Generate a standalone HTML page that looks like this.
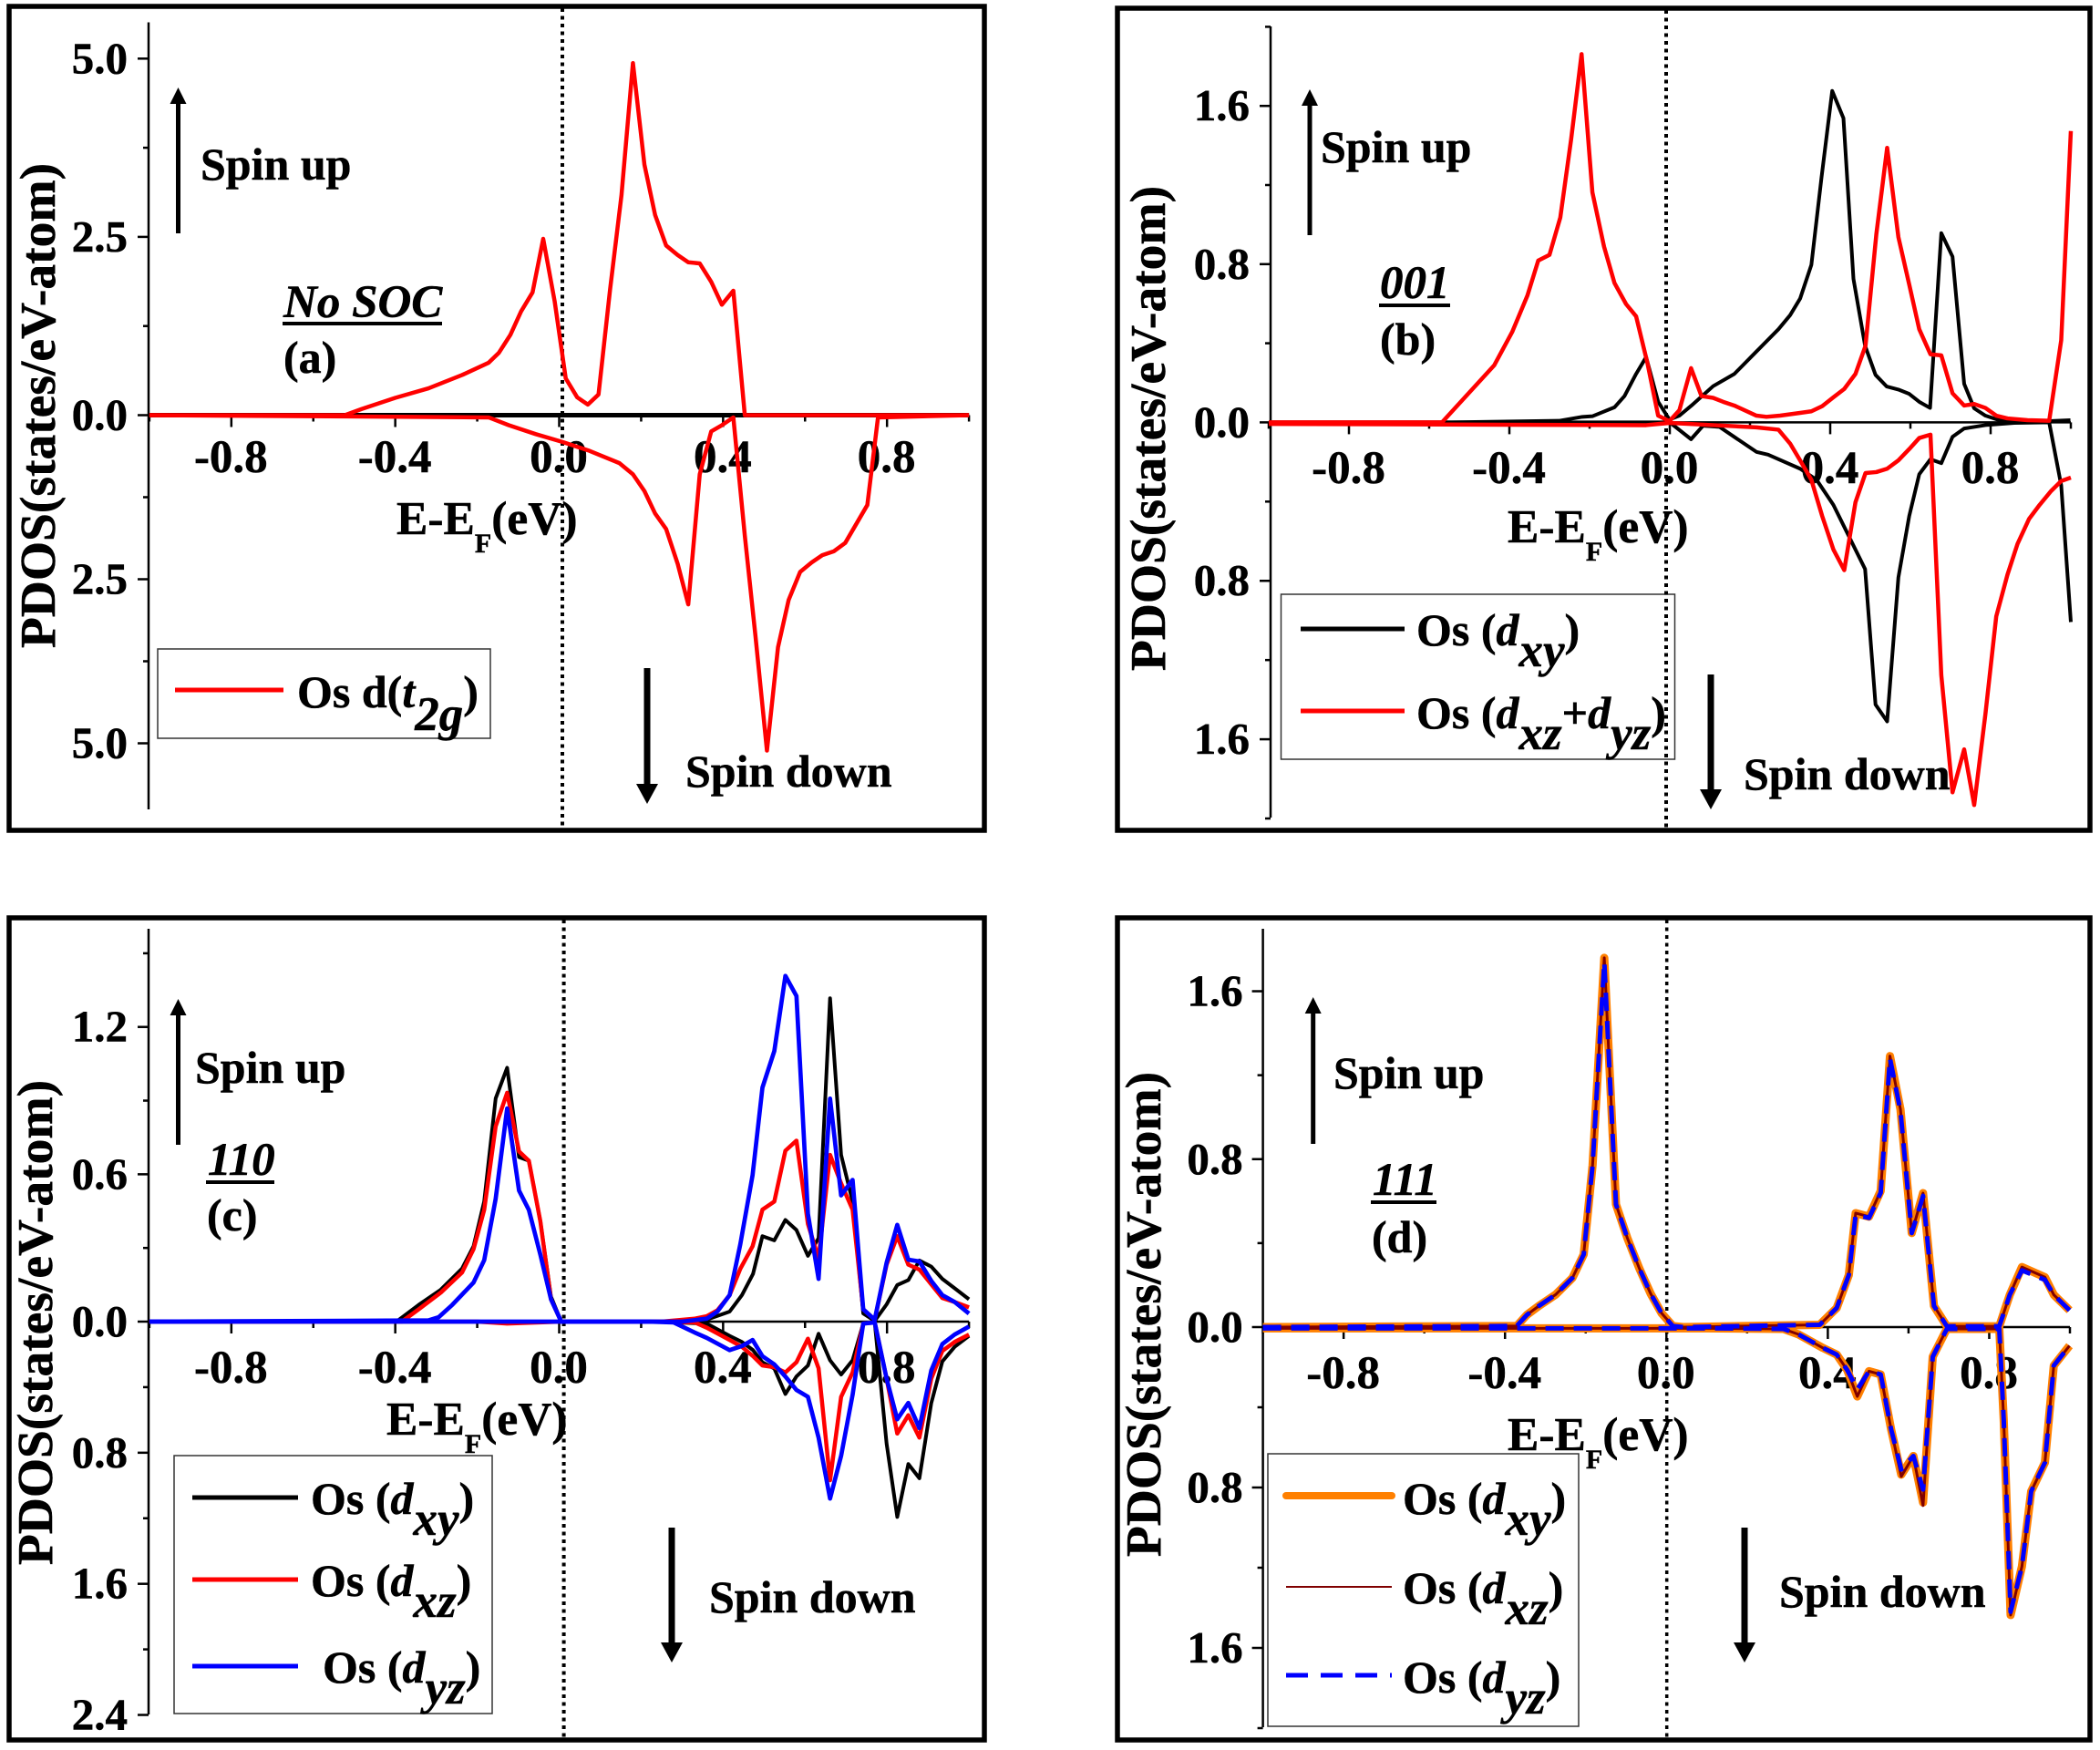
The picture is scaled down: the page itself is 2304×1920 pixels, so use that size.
<!DOCTYPE html>
<html lang="en">
<head>
<meta charset="utf-8">
<title>Os PDOS panels</title>
<style>
html,body{margin:0;padding:0;background:#fff;}
svg{display:block;}
text{font-family:"Liberation Serif",serif;font-weight:bold;fill:#000;font-size:50px;stroke:#000;stroke-width:.5px;}
.i{font-style:italic;}
</style>
</head>
<body>
<svg id="figure" xmlns="http://www.w3.org/2000/svg" width="2304" height="1920" viewBox="0 0 2304 1920">
<rect width="2304" height="1920" fill="#fff"/>

<g id="panel-a">
  <rect x="10" y="7" width="1070" height="904" fill="none" stroke="#000" stroke-width="5.5"/>
  <text transform="translate(60,445) rotate(-90)" text-anchor="middle" style="font-size:55.5px">PDOS(states/eV-atom)</text>
  <text x="220" y="197">Spin up</text>
  <line x1="195.5" y1="256" x2="195.5" y2="108" stroke="#000" stroke-width="5"/>
  <polygon points="195.5,96 186.5,114 204.5,114" fill="#000"/>
  <text x="752" y="863">Spin down</text>
  <line x1="710" y1="733" x2="710" y2="865" stroke="#000" stroke-width="7"/>
  <polygon points="710,882 698,860 722,860" fill="#000"/>
  <text class="i" x="311" y="348" style="font-size:51px">No SOC</text>
  <line x1="310" y1="355" x2="485" y2="355" stroke="#000" stroke-width="4"/>
  <text x="311" y="409">(a)</text>
  <text x="435" y="586" style="font-size:51.5px">E-E<tspan dy="20" style="font-size:30px">F</tspan><tspan dy="-20">(eV)</tspan></text>
  <rect x="173" y="712" width="365" height="98" fill="none" stroke="#333" stroke-width="1.5"/>
  <line x1="192" y1="757" x2="311" y2="757" stroke="#f00" stroke-width="5"/>
  <text x="326" y="776">Os d(<tspan class="i">t</tspan><tspan class="i" dy="25" style="font-size:53px">2g</tspan><tspan dy="-25">)</tspan></text>
</g>

<g id="panel-b">
  <rect x="1226" y="9" width="1067" height="902" fill="none" stroke="#000" stroke-width="5.5"/>
  <text transform="translate(1278,470) rotate(-90)" text-anchor="middle" style="font-size:55.5px">PDOS(states/eV-atom)</text>
  <text x="1449" y="178">Spin up</text>
  <line x1="1437" y1="258" x2="1437" y2="110" stroke="#000" stroke-width="5"/>
  <polygon points="1437,98 1428,116 1446,116" fill="#000"/>
  <text x="1913" y="866">Spin down</text>
  <line x1="1877" y1="740" x2="1877" y2="870" stroke="#000" stroke-width="7"/>
  <polygon points="1877,888 1865,866 1889,866" fill="#000"/>
  <text class="i" x="1514" y="327" style="font-size:51px">001</text>
  <line x1="1513" y1="335" x2="1591" y2="335" stroke="#000" stroke-width="4"/>
  <text x="1514" y="389">(b)</text>
  <text x="1654" y="595" style="font-size:51.5px">E-E<tspan dy="20" style="font-size:30px">F</tspan><tspan dy="-20">(eV)</tspan></text>
  <rect x="1405.5" y="652" width="432" height="181" fill="none" stroke="#333" stroke-width="1.5"/>
  <line x1="1427" y1="690" x2="1541" y2="690" stroke="#000" stroke-width="5"/>
  <text x="1554" y="708">Os (<tspan class="i">d</tspan><tspan class="i" dy="23" style="font-size:53px">xy</tspan><tspan dy="-23">)</tspan></text>
  <line x1="1427" y1="780" x2="1541" y2="780" stroke="#f00" stroke-width="5"/>
  <text x="1554" y="799">Os (<tspan class="i">d</tspan><tspan class="i" dy="23" style="font-size:53px">xz</tspan><tspan dy="-23">+</tspan><tspan class="i">d</tspan><tspan class="i" dy="23" style="font-size:53px">yz</tspan><tspan dy="-23">)</tspan></text>
</g>

<g id="panel-c">
  <rect x="10" y="1007" width="1070" height="902" fill="none" stroke="#000" stroke-width="5.5"/>
  <text transform="translate(57,1451) rotate(-90)" text-anchor="middle" style="font-size:55.5px">PDOS(states/eV-atom)</text>
  <text x="214" y="1188">Spin up</text>
  <line x1="195.5" y1="1256" x2="195.5" y2="1108" stroke="#000" stroke-width="5"/>
  <polygon points="195.5,1096 186.5,1114 204.5,1114" fill="#000"/>
  <text x="778" y="1769">Spin down</text>
  <line x1="737" y1="1676" x2="737" y2="1806" stroke="#000" stroke-width="7"/>
  <polygon points="737,1824 725,1802 749,1802" fill="#000"/>
  <text class="i" x="228" y="1289" style="font-size:51px">110</text>
  <line x1="226" y1="1297" x2="301" y2="1297" stroke="#000" stroke-width="4"/>
  <text x="227" y="1350">(c)</text>
  <text x="424" y="1574" style="font-size:51.5px">E-E<tspan dy="20" style="font-size:30px">F</tspan><tspan dy="-20">(eV)</tspan></text>
  <rect x="191" y="1597" width="349" height="283" fill="none" stroke="#333" stroke-width="1.5"/>
  <line x1="211" y1="1643" x2="327" y2="1643" stroke="#000" stroke-width="5"/>
  <text x="341" y="1661">Os (<tspan class="i">d</tspan><tspan class="i" dy="23" style="font-size:53px">xy</tspan><tspan dy="-23">)</tspan></text>
  <line x1="211" y1="1733" x2="327" y2="1733" stroke="#f00" stroke-width="5"/>
  <text x="341" y="1751">Os (<tspan class="i">d</tspan><tspan class="i" dy="23" style="font-size:53px">xz</tspan><tspan dy="-23">)</tspan></text>
  <line x1="211" y1="1828" x2="327" y2="1828" stroke="#00f" stroke-width="5"/>
  <text x="354" y="1846">Os (<tspan class="i">d</tspan><tspan class="i" dy="23" style="font-size:53px">yz</tspan><tspan dy="-23">)</tspan></text>
</g>

<g id="panel-d">
  <rect x="1226" y="1007" width="1067" height="902" fill="none" stroke="#000" stroke-width="5.5"/>
  <text transform="translate(1273,1442) rotate(-90)" text-anchor="middle" style="font-size:55.5px">PDOS(states/eV-atom)</text>
  <text x="1463" y="1194">Spin up</text>
  <line x1="1440.7" y1="1255" x2="1440.7" y2="1106" stroke="#000" stroke-width="5"/>
  <polygon points="1440.7,1094 1431.7,1112 1449.7,1112" fill="#000"/>
  <text x="1952" y="1763">Spin down</text>
  <line x1="1914" y1="1676" x2="1914" y2="1806" stroke="#000" stroke-width="7"/>
  <polygon points="1914,1824 1902,1802 1926,1802" fill="#000"/>
  <text class="i" x="1506" y="1311" style="font-size:51px">111</text>
  <line x1="1504" y1="1319" x2="1576" y2="1319" stroke="#000" stroke-width="4"/>
  <text x="1505" y="1374">(d)</text>
  <text x="1654" y="1591" style="font-size:51.5px">E-E<tspan dy="20" style="font-size:30px">F</tspan><tspan dy="-20">(eV)</tspan></text>
  <rect x="1391" y="1595" width="341" height="299" fill="none" stroke="#333" stroke-width="1.5"/>
  <line x1="1411" y1="1641" x2="1527" y2="1641" stroke="#ff8000" stroke-width="8" stroke-linecap="round"/>
  <text x="1539" y="1661">Os (<tspan class="i">d</tspan><tspan class="i" dy="23" style="font-size:53px">xy</tspan><tspan dy="-23">)</tspan></text>
  <line x1="1411" y1="1741" x2="1527" y2="1741" stroke="#800000" stroke-width="2"/>
  <text x="1539" y="1759">Os (<tspan class="i">d</tspan><tspan class="i" dy="23" style="font-size:53px">xz</tspan><tspan dy="-23">)</tspan></text>
  <line x1="1411" y1="1838" x2="1527" y2="1838" stroke="#00f" stroke-width="5" stroke-dasharray="24 14"/>
  <text x="1539" y="1857">Os (<tspan class="i">d</tspan><tspan class="i" dy="23" style="font-size:53px">yz</tspan><tspan dy="-23">)</tspan></text>
</g>
</svg>

<script>
// ---- shared x-axis tick data (eV) ----
const xMajorTicks = [-0.8, -0.4, 0, 0.4, 0.8];
const xTickLabels = ['-0.8', '-0.4', '0.0', '0.4', '0.8'];
const xMinorTicks = [-1, -0.6, -0.2, 0.2, 0.6, 1];

// ---- panel (a): No SOC ----
const aUpTicks = [0, 2.5, 5];
const aUpLabels = ['0.0', '2.5', '5.0'];
const aUpMinor = [1.25, 3.75];
const aDownTicks = [2.5, 5];
const aDownLabels = ['2.5', '5.0'];
const aDownMinor = [1.25, 3.75];
const aBaseEnergy = [-1, 1];
const aBaseValues = [0, 0];
const aUpEnergy = [-1,-0.523,-0.482,-0.4,-0.319,-0.237,-0.172,-0.147,-0.119,-0.093,-0.065,-0.039,-0.011,0.016,0.044,0.07,0.096,0.124,0.152,0.18,0.208,0.234,0.261,0.289,0.315,0.343,0.371,0.397,0.425,0.453,1];
const aUpValues = [0,0,0.086,0.243,0.376,0.563,0.736,0.876,1.127,1.455,1.721,2.473,1.596,0.516,0.25,0.149,0.29,1.753,3.083,4.937,3.513,2.809,2.379,2.246,2.144,2.128,1.87,1.549,1.745,0,0];
const aDownEnergy = [-1,-0.172,-0.123,-0.057,0.008,0.074,0.147,0.18,0.208,0.234,0.261,0.289,0.315,0.343,0.371,0.397,0.425,0.453,0.479,0.507,0.534,0.56,0.588,0.616,0.642,0.67,0.698,0.752,0.778,1];
const aDownValues = [0,0.034,0.153,0.289,0.408,0.544,0.731,0.901,1.156,1.497,1.735,2.262,2.883,0.901,0.247,0.153,0.034,1.837,3.367,5.111,3.537,2.815,2.389,2.245,2.134,2.075,1.947,1.369,0.034,0];

// ---- panel (b): 001 ----
const bUpTicks = [0, 0.8, 1.6];
const bUpLabels = ['0.0', '0.8', '1.6'];
const bUpMinor = [0.4, 1.2, 2.0];
const bDownTicks = [0.8, 1.6];
const bDownLabels = ['0.8', '1.6'];
const bDownMinor = [0.4, 1.2, 2.0];
const bDxyUpEnergy = [-1,-0.543,-0.276,-0.218,-0.193,-0.138,-0.113,-0.084,-0.059,-0.029,-0.001,0.024,0.054,0.108,0.161,0.216,0.271,0.3,0.325,0.353,0.378,0.405,0.433,0.458,0.487,0.513,0.541,0.57,0.597,0.622,0.649,0.677,0.705,0.734,0.759,0.787,0.817,0.876,0.999];
const bDxyUpValues = [0,0,0.008,0.028,0.031,0.076,0.133,0.245,0.33,0.104,0.014,0.034,0.085,0.183,0.245,0.358,0.471,0.542,0.626,0.796,1.233,1.676,1.538,0.725,0.387,0.24,0.181,0.166,0.144,0.104,0.073,0.957,0.838,0.195,0.071,0.034,0.014,0,0.011];
const bDxzUpEnergy = [-1,-0.568,-0.438,-0.393,-0.355,-0.328,-0.3,-0.273,-0.246,-0.22,-0.193,-0.164,-0.138,-0.109,-0.084,-0.056,-0.029,-0.001,0.024,0.053,0.079,0.108,0.133,0.161,0.216,0.241,0.275,0.325,0.353,0.38,0.408,0.435,0.463,0.488,0.515,0.542,0.57,0.597,0.622,0.65,0.677,0.705,0.734,0.759,0.787,0.814,0.842,0.892,0.946,0.976,1];
const bDxzUpValues = [0,0,0.288,0.457,0.641,0.818,0.847,1.036,1.431,1.862,1.163,0.889,0.705,0.598,0.536,0.302,0.034,0.006,0.062,0.274,0.133,0.124,0.104,0.085,0.034,0.028,0.034,0.048,0.056,0.082,0.127,0.169,0.245,0.387,0.951,1.388,0.937,0.697,0.471,0.344,0.339,0.147,0.085,0.093,0.073,0.034,0.02,0.011,0.008,0.415,1.473];
const bDxyDownEnergy = [-1,0,0.053,0.083,0.124,0.216,0.245,0.325,0.366,0.408,0.487,0.513,0.542,0.57,0.597,0.622,0.65,0.677,0.705,0.734,0.787,0.859,0.946,0.976,1];
const bDxyDownValues = [0,0,0.085,0.017,0.023,0.149,0.163,0.234,0.29,0.417,0.741,1.425,1.51,0.783,0.473,0.262,0.186,0.206,0.073,0.031,0.014,0.003,0,0.318,1.008];
const bDxzDownEnergy = [-1,-0.059,0,0.108,0.216,0.271,0.3,0.325,0.353,0.38,0.408,0.435,0.463,0.488,0.515,0.542,0.57,0.597,0.622,0.65,0.677,0.705,0.734,0.759,0.787,0.814,0.842,0.867,0.896,0.922,0.951,0.976,1];
const bDxzDownValues = [0.008,0.014,0.003,0.014,0.025,0.037,0.107,0.192,0.29,0.473,0.642,0.746,0.403,0.256,0.251,0.234,0.192,0.135,0.079,0.062,1.276,1.868,1.651,1.932,1.473,0.98,0.769,0.614,0.487,0.417,0.346,0.296,0.279];

// ---- panel (c): 110 ----
const cUpTicks = [0, 0.6, 1.2];
const cUpLabels = ['0.0', '0.6', '1.2'];
const cUpMinor = [0.3, 0.9, 1.5];
const cDownTicks = [0.8, 1.6, 2.4];
const cDownLabels = ['0.8', '1.6', '2.4'];
const cDownMinor = [0.4, 1.2, 2.0];
const cDxyUpEnergy = [-1,-0.397,-0.343,-0.289,-0.237,-0.209,-0.183,-0.155,-0.127,-0.098,-0.074,-0.046,-0.02,0.005,0.25,0.36,0.416,0.446,0.473,0.496,0.525,0.552,0.579,0.607,0.633,0.661,0.688,0.716,0.742,0.77,0.799,0.825,0.852,0.879,0.908,0.935,0.965,1];
const cDxyUpValues = [0,0,0.068,0.13,0.216,0.307,0.489,0.909,1.034,0.67,0.655,0.409,0.102,0,0,0.008,0.041,0.108,0.194,0.348,0.331,0.414,0.373,0.268,0.34,1.317,0.679,0.489,0.033,0.003,0.07,0.149,0.169,0.249,0.224,0.174,0.136,0.091];
const cDxzUpEnergy = [-1,-0.384,-0.343,-0.289,-0.237,-0.209,-0.183,-0.155,-0.127,-0.098,-0.074,-0.046,-0.02,0.005,0.25,0.331,0.36,0.386,0.416,0.442,0.472,0.496,0.525,0.552,0.579,0.607,0.633,0.661,0.688,0.716,0.742,0.77,0.799,0.825,0.852,0.879,0.908,0.935,0.965,1];
const cDxzUpValues = [0,0,0.05,0.118,0.2,0.295,0.455,0.795,0.932,0.693,0.655,0.409,0.091,0,0,0.012,0.022,0.046,0.108,0.215,0.307,0.456,0.489,0.696,0.737,0.398,0.257,0.679,0.563,0.456,0.05,0.008,0.232,0.348,0.232,0.212,0.152,0.096,0.08,0.058];
const cDyzUpEnergy = [-1,-0.319,-0.294,-0.261,-0.209,-0.183,-0.155,-0.127,-0.098,-0.074,-0.046,-0.02,0.005,0.3,0.36,0.386,0.416,0.442,0.472,0.496,0.525,0.552,0.579,0.607,0.633,0.661,0.688,0.716,0.742,0.77,0.799,0.825,0.852,0.879,0.908,0.935,0.965,1];
const cDyzUpValues = [0,0.005,0.018,0.068,0.159,0.25,0.5,0.868,0.534,0.455,0.273,0.091,0,0,0.012,0.041,0.108,0.315,0.597,0.953,1.102,1.408,1.326,0.439,0.174,0.908,0.514,0.577,0.05,0.008,0.24,0.394,0.252,0.245,0.166,0.108,0.08,0.033];
const cDxyDownEnergy = [-1,0.22,0.279,0.36,0.416,0.446,0.473,0.496,0.525,0.552,0.579,0.607,0.633,0.661,0.688,0.716,0.742,0.77,0.799,0.825,0.852,0.879,0.908,0.935,0.965,1];
const cDxyDownValues = [0,0,0.005,0.012,0.087,0.124,0.174,0.248,0.286,0.442,0.335,0.268,0.074,0.236,0.323,0.236,0.012,0.005,0.745,1.192,0.869,0.956,0.497,0.243,0.154,0.087];
const cDxzDownEnergy = [-1,-0.2,-0.127,-0.04,0.005,0.25,0.331,0.36,0.416,0.446,0.473,0.496,0.525,0.552,0.579,0.607,0.633,0.661,0.688,0.716,0.742,0.77,0.799,0.825,0.852,0.879,0.908,0.935,0.965,1];
const cDxzDownValues = [0,0,0.012,0.004,0,0,0.005,0.037,0.112,0.154,0.211,0.268,0.278,0.31,0.248,0.104,0.285,0.968,0.459,0.31,0.012,0.005,0.348,0.683,0.571,0.708,0.348,0.179,0.124,0.079];
const cDyzDownEnergy = [-1,0.22,0.279,0.331,0.36,0.416,0.446,0.472,0.496,0.525,0.552,0.579,0.607,0.633,0.661,0.688,0.716,0.742,0.77,0.799,0.825,0.852,0.879,0.908,0.935,0.965,1];
const cDyzDownValues = [0,0,0.005,0.067,0.099,0.174,0.149,0.112,0.211,0.261,0.335,0.417,0.459,0.708,1.08,0.819,0.447,0.012,0.005,0.348,0.596,0.496,0.65,0.298,0.137,0.079,0.03];

// ---- panel (d): 111 ----
const dUpTicks = [0, 0.8, 1.6];
const dUpLabels = ['0.0', '0.8', '1.6'];
const dUpMinor = [0.4, 1.2];
const dDownTicks = [0.8, 1.6];
const dDownLabels = ['0.8', '1.6'];
const dDownMinor = [0.4, 1.2, 2.0];
const dUpEnergy = [-1,-0.371,-0.346,-0.316,-0.275,-0.233,-0.205,-0.183,-0.154,-0.125,-0.097,-0.067,-0.039,-0.012,0.016,0.041,0.38,0.422,0.452,0.469,0.502,0.531,0.554,0.58,0.608,0.636,0.663,0.695,0.825,0.851,0.881,0.938,0.96,0.999];
const dDxyUpValues = [0,0.005,0.058,0.101,0.154,0.234,0.346,0.771,1.759,0.585,0.425,0.279,0.159,0.066,0.005,0,0.011,0.091,0.248,0.543,0.526,0.648,1.291,1.038,0.448,0.638,0.101,0.004,0.004,0.154,0.286,0.238,0.154,0.08];
const dDxzUpValues = [0,0.005,0.058,0.101,0.154,0.234,0.346,0.771,1.759,0.585,0.425,0.279,0.159,0.066,0.005,0,0.011,0.091,0.248,0.543,0.526,0.648,1.291,1.038,0.448,0.638,0.101,0.004,0.004,0.154,0.286,0.238,0.154,0.08];
const dDyzUpValues = [0,0.005,0.058,0.101,0.154,0.234,0.346,0.771,1.74,0.585,0.425,0.279,0.159,0.066,0.005,0,0.011,0.091,0.248,0.535,0.52,0.64,1.28,1.03,0.448,0.625,0.101,0.004,0.004,0.154,0.27,0.225,0.154,0.08];
const dDownEnergy = [-1,-0.2,0.1,0.29,0.328,0.388,0.422,0.448,0.473,0.502,0.531,0.557,0.582,0.612,0.636,0.66,0.695,0.825,0.836,0.853,0.881,0.904,0.938,0.96,0.999];
const dDxyDownValues = [0.006,0.006,0.006,0.009,0.037,0.104,0.137,0.214,0.346,0.22,0.236,0.511,0.736,0.643,0.875,0.148,0.009,0.009,0.467,1.436,1.194,0.819,0.676,0.192,0.093];
const dDxzDownValues = [0.006,0.006,0.006,0.009,0.037,0.104,0.137,0.214,0.346,0.22,0.236,0.511,0.745,0.643,0.89,0.148,0.009,0.009,0.467,1.436,1.194,0.819,0.676,0.192,0.093];
const dDyzDownValues = [0.006,0.006,0.006,0.009,0.037,0.104,0.137,0.214,0.31,0.22,0.236,0.511,0.71,0.643,0.81,0.148,0.009,0.009,0.467,1.42,1.194,0.819,0.676,0.192,0.093];

const NS = 'http://www.w3.org/2000/svg';

function make(tag, parent) {
  const el = document.createElementNS(NS, tag);
  parent.appendChild(el);
  return el;
}
function tickLine(parent, x1, y1, x2, y2, width, name) {
  const el = make('line', parent);
  el.setAttribute('x1', x1);
  el.setAttribute('y1', y1);
  el.setAttribute('x2', x2);
  el.setAttribute('y2', y2);
  el.setAttribute('stroke', '#000');
  el.setAttribute('stroke-width', width);
  
  
  return el;
}
function tickText(parent, x, y, anchor, size, content, name) {
  const el = make('text', parent);
  el.setAttribute('x', x);
  el.setAttribute('y', y);
  el.setAttribute('text-anchor', anchor);
  el.style.fontSize = size + 'px';
  el.textContent = content;
  
  
  return el;
}
function drawSeries(parent, energies, values, xOf, yOf, color, width, dash, name) {
  const el = make('polyline', parent);
  const pts = [];
  for (let i = 0; i < energies.length; i++) {
    pts.push(xOf(energies[i]).toFixed(2) + ',' + yOf(values[i]).toFixed(2));
  }
  el.setAttribute('points', pts.join(' '));
  el.setAttribute('fill', 'none');
  el.setAttribute('stroke', color);
  el.setAttribute('stroke-width', width);
  el.setAttribute('stroke-linejoin', 'round');
  if (dash) el.setAttribute('stroke-dasharray', dash);
  
  
  return el;
}
function drawAxes(id, geo, up, upLabels, upMinor, down, downLabels, downMinor) {
  const parent = document.getElementById('panel-' + id);
  const g = make('g', parent);
  
  
  const xOf = e => geo.x0 + e * geo.xs;
  const yUp = v => geo.y0 - v * geo.up;
  const yDown = v => geo.y0 + v * geo.down;

  tickLine(g, geo.axisX, geo.top, geo.axisX, geo.bottom, 2.5, 'y-axis-line-' + id);
  tickLine(g, xOf(-1), geo.y0, xOf(1), geo.y0, 2.5, 'x-axis-line-' + id);
  xMajorTicks.forEach((t, i) => {
    tickLine(g, xOf(t), geo.y0, xOf(t), geo.y0 + 13, 2.5, 'x-tick-' + id);
    tickText(g, xOf(t) - 0.5, geo.xLabelY, 'middle', 51, xTickLabels[i], 'x-tick-label-' + id);
  });
  xMinorTicks.forEach(t => {
    tickLine(g, xOf(t), geo.y0, xOf(t), geo.y0 + 7, 2.5, 'x-minor-tick-' + id);
  });
  up.forEach((t, i) => {
    tickLine(g, geo.axisX - 12, yUp(t), geo.axisX, yUp(t), 2.5, 'y-tick-up-' + id);
    tickText(g, geo.labelX, yUp(t) + 16, 'end', 49, upLabels[i], 'y-tick-label-up-' + id);
  });
  upMinor.forEach(t => {
    tickLine(g, geo.axisX - 6, yUp(t), geo.axisX, yUp(t), 2.5, 'y-minor-tick-up-' + id);
  });
  down.forEach((t, i) => {
    tickLine(g, geo.axisX - 12, yDown(t), geo.axisX, yDown(t), 2.5, 'y-tick-down-' + id);
    tickText(g, geo.labelX, yDown(t) + 16, 'end', 49, downLabels[i], 'y-tick-label-down-' + id);
  });
  downMinor.forEach(t => {
    tickLine(g, geo.axisX - 6, yDown(t), geo.axisX, yDown(t), 2.5, 'y-minor-tick-down-' + id);
  });
  const fermi = tickLine(g, geo.fermiX, geo.frameTop, geo.fermiX, geo.frameBottom, geo.fermiW, 'fermi-level-line-' + id);
  fermi.setAttribute('stroke-dasharray', '4 4.5');

  const s = make('g', parent);
  
  
  return { s, xOf, yUp, yDown };
}

// panel a
const pa = drawAxes('a', {x0:613.5,xs:449.6,y0:455.5,up:78.24,down:72,axisX:163,top:24.5,bottom:888,labelX:140,xLabelY:518,fermiX:617,fermiW:4,frameTop:9,frameBottom:909},
  aUpTicks, aUpLabels, aUpMinor, aDownTicks, aDownLabels, aDownMinor);
drawSeries(pa.s, aBaseEnergy, aBaseValues, pa.xOf, pa.yUp, '#000', 5, null, 'baseline-trace-a');
drawSeries(pa.s, aDownEnergy, aDownValues, pa.xOf, pa.yDown, '#f00', 4.5, null, 'os-t2g-spin-down');
drawSeries(pa.s, aUpEnergy, aUpValues, pa.xOf, pa.yUp, '#f00', 4.5, null, 'os-t2g-spin-up');

// panel b
const pb = drawAxes('b', {x0:1832,xs:440,y0:463.4,up:217,down:217.3,axisX:1394,top:29,bottom:897,labelX:1371,xLabelY:530,fermiX:1828,fermiW:4,frameTop:11,frameBottom:909},
  bUpTicks, bUpLabels, bUpMinor, bDownTicks, bDownLabels, bDownMinor);
drawSeries(pb.s, bDxyUpEnergy, bDxyUpValues, pb.xOf, pb.yUp, '#000', 4, null, 'os-dxy-spin-up-b');
drawSeries(pb.s, bDxyDownEnergy, bDxyDownValues, pb.xOf, pb.yDown, '#000', 4, null, 'os-dxy-spin-down-b');
drawSeries(pb.s, bDxzUpEnergy, bDxzUpValues, pb.xOf, pb.yUp, '#f00', 4.5, null, 'os-dxz-dyz-spin-up-b');
drawSeries(pb.s, bDxzDownEnergy, bDxzDownValues, pb.xOf, pb.yDown, '#f00', 4.5, null, 'os-dxz-dyz-spin-down-b');

// panel c
const pc = drawAxes('c', {x0:613.5,xs:449.6,y0:1450,up:269.4,down:179.8,axisX:163,top:1019,bottom:1881,labelX:140,xLabelY:1517,fermiX:618.6,fermiW:4,frameTop:1009,frameBottom:1907},
  cUpTicks, cUpLabels, cUpMinor, cDownTicks, cDownLabels, cDownMinor);
drawSeries(pc.s, cDxyUpEnergy, cDxyUpValues, pc.xOf, pc.yUp, '#000', 4, null, 'os-dxy-spin-up-c');
drawSeries(pc.s, cDxyDownEnergy, cDxyDownValues, pc.xOf, pc.yDown, '#000', 4, null, 'os-dxy-spin-down-c');
drawSeries(pc.s, cDxzUpEnergy, cDxzUpValues, pc.xOf, pc.yUp, '#f00', 4.5, null, 'os-dxz-spin-up-c');
drawSeries(pc.s, cDxzDownEnergy, cDxzDownValues, pc.xOf, pc.yDown, '#f00', 4.5, null, 'os-dxz-spin-down-c');
drawSeries(pc.s, cDyzUpEnergy, cDyzUpValues, pc.xOf, pc.yUp, '#00f', 4.7, null, 'os-dyz-spin-up-c');
drawSeries(pc.s, cDyzDownEnergy, cDyzDownValues, pc.xOf, pc.yDown, '#00f', 4.7, null, 'os-dyz-spin-down-c');

// panel d
const pd = drawAxes('d', {x0:1828.3,xs:442.7,y0:1456,up:230.3,down:220,axisX:1385.6,top:1019,bottom:1895,labelX:1363.6,xLabelY:1523,fermiX:1828.7,fermiW:3.5,frameTop:1009,frameBottom:1907},
  dUpTicks, dUpLabels, dUpMinor, dDownTicks, dDownLabels, dDownMinor);
drawSeries(pd.s, dUpEnergy, dDxyUpValues, pd.xOf, pd.yUp, '#ff8000', 9, null, 'os-dxy-spin-up-d');
drawSeries(pd.s, dDownEnergy, dDxyDownValues, pd.xOf, pd.yDown, '#ff8000', 9, null, 'os-dxy-spin-down-d');
drawSeries(pd.s, dUpEnergy, dDxzUpValues, pd.xOf, pd.yUp, '#800000', 3, null, 'os-dxz-spin-up-d');
drawSeries(pd.s, dDownEnergy, dDxzDownValues, pd.xOf, pd.yDown, '#800000', 3, null, 'os-dxz-spin-down-d');
drawSeries(pd.s, dUpEnergy, dDyzUpValues, pd.xOf, pd.yUp, '#00f', 5, '20 11', 'os-dyz-spin-up-d');
drawSeries(pd.s, dDownEnergy, dDyzDownValues, pd.xOf, pd.yDown, '#00f', 5, '20 11', 'os-dyz-spin-down-d');
</script>
</body>
</html>
